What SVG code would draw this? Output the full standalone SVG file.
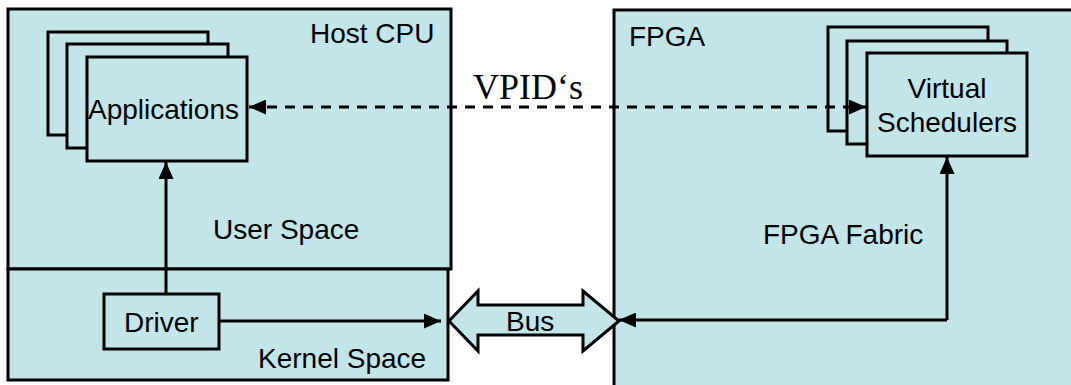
<svg xmlns="http://www.w3.org/2000/svg" width="1071" height="385" viewBox="0 0 1071 385">
  <style>
    .box { fill: #c4e5e8; stroke: #000; stroke-width: 3; }
    .lbl { font-family: "Liberation Sans", Arial, sans-serif; font-size: 28px; fill: #000; }
    .mid { text-anchor: middle; }
    .vpid { font-family: "Liberation Serif", "Times New Roman", serif; font-size: 36px; fill: #000; }
    .wire { fill: none; stroke: #000; stroke-width: 3; }
    .dash { stroke-dasharray: 10 8; }
  </style>
  <defs>
    <marker id="arrow" markerUnits="userSpaceOnUse" viewBox="0 0 17 15" refX="17" refY="7.5" markerWidth="17" markerHeight="15" orient="auto-start-reverse">
      <path d="M0,0 L17,7.5 L0,15 z" fill="#000"/>
    </marker>
  </defs>
  <rect width="1071" height="385" fill="#fff"/>

  <!-- Host CPU (user space) -->
  <g id="host-cpu">
    <rect class="box" x="8" y="9" width="443" height="260"/>
    <text class="lbl" x="310" y="43">Host CPU</text>
    <text class="lbl" x="213" y="239">User Space</text>
  </g>

  <!-- Kernel space -->
  <g id="kernel-space">
    <rect class="box" x="8" y="269" width="440" height="111"/>
    <text class="lbl" x="258" y="368">Kernel Space</text>
  </g>

  <!-- FPGA -->
  <g id="fpga">
    <rect class="box" x="614" y="10" width="470" height="390"/>
    <text class="lbl" x="629" y="46">FPGA</text>
    <text class="lbl" x="763" y="244">FPGA Fabric</text>
  </g>

  <!-- Applications stack -->
  <g id="applications">
    <rect class="box" x="48" y="32" width="160" height="103"/>
    <rect class="box" x="67" y="44" width="161" height="104"/>
    <rect class="box" x="87" y="57" width="160" height="104"/>
    <text class="lbl" x="88" y="119">Applications</text>
  </g>

  <!-- Driver -->
  <g id="driver">
    <rect class="box" x="104" y="294" width="115" height="55"/>
    <text class="lbl" x="124" y="332">Driver</text>
  </g>

  <!-- Virtual schedulers stack -->
  <g id="virtual-schedulers">
    <rect class="box" x="828" y="27" width="160" height="104"/>
    <rect class="box" x="847" y="41" width="160" height="103"/>
    <rect class="box" x="867" y="53" width="160" height="103"/>
    <text class="lbl mid" x="947" y="98">Virtual</text>
    <text class="lbl mid" x="947" y="132">Schedulers</text>
  </g>

  <!-- Bus -->
  <g id="bus">
    <polygon class="box" points="449,321 478,291 478,305 583,305 583,291 619,321 583,351 583,335 478,335 478,351"/>
    <text class="lbl" x="506" y="331">Bus</text>
  </g>

  <!-- Connectors -->
  <g id="connectors">
    <line class="wire" x1="166" y1="294" x2="166" y2="162" marker-end="url(#arrow)"/>
    <line class="wire" x1="219" y1="321" x2="441" y2="321" marker-end="url(#arrow)"/>
    <polyline class="wire" points="947,320 947,157" marker-end="url(#arrow)"/>
    <polyline class="wire" points="947,320 619,320" marker-end="url(#arrow)"/>
    <line class="wire dash" x1="249" y1="107" x2="866" y2="107" marker-start="url(#arrow)" marker-end="url(#arrow)"/>
    <text class="vpid" x="473" y="99">VPID‘s</text>
  </g>
</svg>
